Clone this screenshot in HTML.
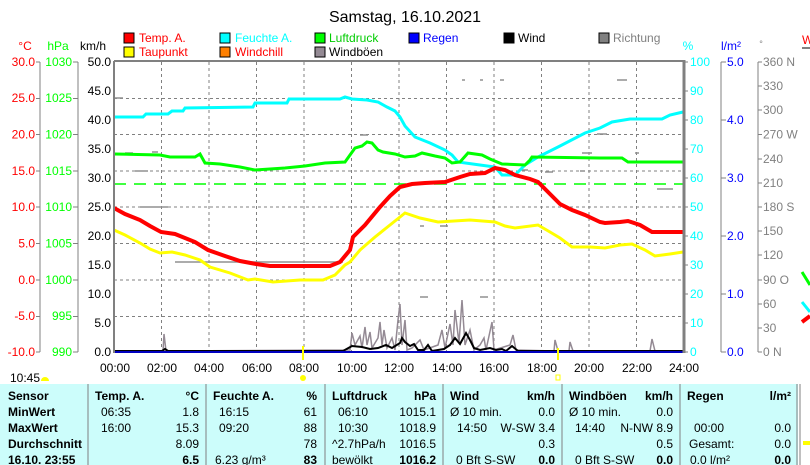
<!DOCTYPE html>
<html><head><meta charset="utf-8"><style>
html,body{margin:0;padding:0;background:#fff;}
svg{display:block;font-family:"Liberation Sans",sans-serif;}
</style></head><body>
<svg width="810" height="465" viewBox="0 0 810 465" xmlns="http://www.w3.org/2000/svg">
<text x="405" y="22" font-size="16" text-anchor="middle">Samstag, 16.10.2021</text>
<g font-size="12">
<rect x="124" y="33" width="10" height="10" fill="#f00" stroke="#000"/><text x="139" y="42" fill="#f00">Temp. A.</text>
<rect x="220" y="33" width="10" height="10" fill="#0ff" stroke="#000"/><text x="235" y="42" fill="#0ff">Feuchte A.</text>
<rect x="315" y="33" width="10" height="10" fill="#0f0" stroke="#000"/><text x="329" y="42" fill="#0c0">Luftdruck</text>
<rect x="409" y="33" width="10" height="10" fill="#00f" stroke="#000"/><text x="423" y="42" fill="#00f">Regen</text>
<rect x="504" y="33" width="10" height="10" fill="#000" stroke="#000"/><text x="518" y="42" fill="#000">Wind</text>
<rect x="599" y="33" width="10" height="10" fill="#808080" stroke="#000"/><text x="613" y="42" fill="#808080">Richtung</text>
<rect x="124" y="47" width="10" height="10" fill="#ff0" stroke="#000"/><text x="139" y="56" fill="#f00">Taupunkt</text>
<rect x="220" y="47" width="10" height="10" fill="#ff8000" stroke="#000"/><text x="235" y="56" fill="#f00">Windchill</text>
<rect x="315" y="47" width="10" height="10" fill="#948a94" stroke="#000"/><text x="329" y="56" fill="#000">Windböen</text>
</g>
<g font-size="12">
<text x="25" y="50" fill="#f00" text-anchor="middle">°C</text>
<text x="58" y="50" fill="#0f0" text-anchor="middle">hPa</text>
<text x="93" y="50" fill="#000" text-anchor="middle">km/h</text>
<text x="688" y="50" fill="#0ff" text-anchor="middle">%</text>
<text x="731" y="50" fill="#00f" text-anchor="middle">l/m²</text>
<text x="761" y="47" fill="#808080" text-anchor="middle" font-size="9">°</text>
<text x="802" y="44" fill="#f00">W</text>
<rect x="802" y="47" width="8" height="2" fill="#808080"/>
</g>
<g stroke="#808080" stroke-dasharray="3,3" stroke-width="1">
<line x1="161.5" y1="62" x2="161.5" y2="352"/><line x1="209" y1="62" x2="209" y2="352"/><line x1="256.5" y1="62" x2="256.5" y2="352"/><line x1="304" y1="62" x2="304" y2="352"/><line x1="351.5" y1="62" x2="351.5" y2="352"/><line x1="399" y1="62" x2="399" y2="352"/><line x1="446.5" y1="62" x2="446.5" y2="352"/><line x1="494" y1="62" x2="494" y2="352"/><line x1="541.5" y1="62" x2="541.5" y2="352"/><line x1="589" y1="62" x2="589" y2="352"/><line x1="636.5" y1="62" x2="636.5" y2="352"/>
<line x1="114" y1="98.5" x2="684" y2="98.5"/><line x1="114" y1="134.5" x2="684" y2="134.5"/><line x1="114" y1="171" x2="684" y2="171"/><line x1="114" y1="207" x2="684" y2="207"/><line x1="114" y1="243.5" x2="684" y2="243.5"/><line x1="114" y1="280" x2="684" y2="280"/><line x1="114" y1="316.5" x2="684" y2="316.5"/>
</g>
<line x1="114" y1="184" x2="684" y2="184" stroke="#0f0" stroke-width="1.5" stroke-dasharray="12,8"/>
<g stroke="#909090" stroke-width="1.5">
<line x1="115" y1="98" x2="123" y2="98"/><line x1="125" y1="153" x2="133" y2="153"/><line x1="152" y1="152" x2="158" y2="152"/>
<line x1="135" y1="171" x2="148" y2="171"/><line x1="140" y1="207" x2="168" y2="207"/><line x1="175" y1="262" x2="343" y2="262"/>
<line x1="350" y1="243" x2="354" y2="243"/><line x1="360" y1="135" x2="368" y2="135"/>
<line x1="462" y1="80" x2="465" y2="80"/><line x1="480" y1="80" x2="483" y2="80"/><line x1="500" y1="80" x2="504" y2="80"/>
<line x1="617" y1="80" x2="627" y2="80"/><line x1="597" y1="134" x2="607" y2="134"/><line x1="635" y1="153" x2="639" y2="153"/>
<line x1="582" y1="153" x2="592" y2="153"/><line x1="580" y1="171" x2="585" y2="171"/><line x1="657" y1="189" x2="673" y2="189"/>
<line x1="520" y1="170" x2="528" y2="170"/><line x1="420" y1="226" x2="424" y2="226"/><line x1="440" y1="226" x2="448" y2="226"/>
<line x1="420" y1="297" x2="428" y2="297"/><line x1="480" y1="297" x2="488" y2="297"/><line x1="545" y1="172" x2="553" y2="172"/>
</g>
<polyline fill="none" stroke="#0ff" stroke-width="3" points="114,117 143,117 146,114 168,114 172,111 183,111 185,108 253,107 255,103 287,103 289,99 340,99 345,97 352,99 367,100 378,102 387,107 395,111 400,117 405,126 415,137 430,143 445,150 452,155 458,162 480,165 495,167 502,175 515,175 525,165 538,157 560,146 585,133 600,128 612,122 630,119 662,119 670,115 683,112"/>
<polyline fill="none" stroke="#0f0" stroke-width="3" points="114,154 160,155 170,157 195,157 200,154 205,163 220,164 240,167 255,170 270,169 285,168 305,166 325,163 345,162 350,155 355,148 362,146 367,142 372,143 378,150 383,152 395,154 405,157 415,156 422,153 435,156 445,158 452,163 460,162 468,153 482,155 490,159 502,164 525,165 530,160 532,157 600,158 622,158 628,162 683,162"/>
<polyline fill="none" stroke="#f00" stroke-width="4" points="114,208 125,214 140,220 150,226 161,232 175,234 195,242 208,250 225,256 240,261 256,264 270,266 330,266 340,262 350,250 353,237 365,225 380,207 390,196 400,187 412,184 425,183 445,182 460,177 470,174 485,173 495,168 505,170 515,175 530,179 538,182 550,194 560,204 572,210 585,215 600,222 605,223 620,222 628,221 640,225 652,232 665,232 683,232"/>
<polyline fill="none" stroke="#ff0" stroke-width="3" points="114,230 125,235 140,243 150,249 160,253 172,252 185,255 200,260 210,267 230,273 248,280 255,279 273,282 300,280 323,280 335,275 345,265 350,262 360,250 375,237 390,225 400,217 405,213 420,218 438,222 470,220 495,222 505,226 515,228 538,225 550,232 560,238 572,247 590,247 605,248 620,245 632,244 645,250 655,256 670,254 683,252"/>
<polyline fill="none" stroke="#948a94" stroke-width="1.5" points="114,351 163,351 164,334 166,351 350,350 352,333 355,345 360,336 362,348 365,327 367,345 370,332 372,348 378,338 380,322 382,345 384,330 387,348 392,338 395,350 398,320 400,304 402,345 405,320 407,350 412,348 420,340 424,350 438,345 442,330 445,348 450,324 453,345 455,310 459,343 462,300 465,345 470,330 474,350 480,345 484,338 486,350 492,322 494,350 510,345 513,335 516,350 554,351 555,340 558,351 569,351 570,342 573,351 650,351 652,339 655,351 684,351"/>
<polyline fill="none" stroke="#000" stroke-width="2" points="114,351 162,351 165,349 168,351 343,351 352,346 362,347 370,349 378,348 386,345 392,348 400,343 402,338 405,342 410,346 414,344 418,350 424,350 428,345 432,351 438,350 444,349 450,345 455,338 460,344 466,333 470,340 474,348 480,350 490,348 496,350 502,349 506,351 512,346 518,351 684,351"/>
<line x1="114" y1="352" x2="684" y2="352" stroke="#0000c0" stroke-width="2"/>
<line x1="114" y1="61" x2="685" y2="61" stroke="#808080" stroke-width="2"/>
<line x1="114" y1="61" x2="114" y2="353" stroke="#808080" stroke-width="2"/>
<line x1="684" y1="60" x2="684" y2="353" stroke="#808080" stroke-width="3"/>
<g stroke="#808080"><line x1="40" y1="62" x2="40" y2="352"/><line x1="78" y1="62" x2="78" y2="352"/>
<line x1="721" y1="62" x2="721" y2="352"/><line x1="758" y1="62" x2="758" y2="352"/></g>
<g font-size="12" text-anchor="end">
<g fill="#f00"><text x="35" y="66">30.0</text><text x="35" y="102">25.0</text><text x="35" y="138.5">20.0</text><text x="35" y="175">15.0</text><text x="35" y="211">10.0</text><text x="35" y="247.5">5.0</text><text x="35" y="284">0.0</text><text x="35" y="320">-5.0</text><text x="35" y="356">-10.0</text></g>
<g fill="#0f0"><text x="72" y="66">1030</text><text x="72" y="102">1025</text><text x="72" y="138.5">1020</text><text x="72" y="175">1015</text><text x="72" y="211">1010</text><text x="72" y="247.5">1005</text><text x="72" y="284">1000</text><text x="72" y="320">995</text><text x="72" y="356">990</text></g>
<g fill="#000"><text x="111" y="66">50.0</text><text x="111" y="95">45.0</text><text x="111" y="124">40.0</text><text x="111" y="153">35.0</text><text x="111" y="182">30.0</text><text x="111" y="211">25.0</text><text x="111" y="240">20.0</text><text x="111" y="269">15.0</text><text x="111" y="298">10.0</text><text x="111" y="327">5.0</text><text x="111" y="356">0.0</text></g>
</g>
<g stroke="#808080"><path d="M36 62h4M36 98.5h4M36 134.5h4M36 171h4M36 207h4M36 243.5h4M36 280h4M36 316.5h4M36 352h4M73 62h5M73 98.5h5M73 134.5h5M73 171h5M73 207h5M73 243.5h5M73 280h5M73 316.5h5M73 352h5"/>
<path d="M684 62h4M684 91h4M684 120h4M684 149h4M684 178h4M684 207h4M684 236h4M684 265h4M684 294h4M684 323h4M684 352h4M721 62h5M721 120h5M721 178h5M721 236h5M721 294h5M721 352h5"/>
<path d="M758 62h4M758 86h4M758 110h4M758 134.5h4M758 159h4M758 183h4M758 207h4M758 231h4M758 255h4M758 280h4M758 304h4M758 328h4M758 352h4"/></g>
<g font-size="12">
<g fill="#0ff"><text x="690" y="66">100</text><text x="690" y="95">90</text><text x="690" y="124">80</text><text x="690" y="153">70</text><text x="690" y="182">60</text><text x="690" y="211">50</text><text x="690" y="240">40</text><text x="690" y="269">30</text><text x="690" y="298">20</text><text x="690" y="327">10</text><text x="690" y="356">0</text></g>
<g fill="#00f"><text x="727" y="66">5.0</text><text x="727" y="124">4.0</text><text x="727" y="182">3.0</text><text x="727" y="240">2.0</text><text x="727" y="298">1.0</text><text x="727" y="356">0.0</text></g>
<g fill="#808080"><text x="763" y="66">360 N</text><text x="763" y="90">330</text><text x="763" y="114">300</text><text x="763" y="138.5">270 W</text><text x="763" y="163">240</text><text x="763" y="187">210</text><text x="763" y="211">180 S</text><text x="763" y="235">150</text><text x="763" y="259">120</text><text x="763" y="284">90  O</text><text x="763" y="308">60</text><text x="763" y="332">30</text><text x="763" y="356">0   N</text></g>
</g>
<path d="M802 272 L810 285" stroke="#0f0" stroke-width="3"/><path d="M802 302 L810 312" stroke="#0ff" stroke-width="3"/><path d="M802 322 L810 316" stroke="#f00" stroke-width="4"/>
<g font-size="12" text-anchor="middle">
<text x="115" y="372">00:00</text><text x="162" y="372">02:00</text><text x="209" y="372">04:00</text><text x="257" y="372">06:00</text><text x="304" y="372">08:00</text><text x="352" y="372">10:00</text><text x="399" y="372">12:00</text><text x="447" y="372">14:00</text><text x="494" y="372">16:00</text><text x="542" y="372">18:00</text><text x="589" y="372">20:00</text><text x="637" y="372">22:00</text><text x="684" y="372">24:00</text>
</g>
<text x="10" y="382" font-size="12">10:45</text>
<path d="M41 381 a4 4 0 0 1 8 0z" fill="#ff0"/>
<line x1="303" y1="346" x2="303" y2="360" stroke="#ff0" stroke-width="2"/>
<circle cx="303" cy="378" r="3" fill="#ff0"/>
<line x1="558" y1="348" x2="558" y2="360" stroke="#ff0" stroke-width="2"/>
<rect x="556" y="375" width="4" height="5" fill="none" stroke="#ff0"/>
<rect x="0" y="384" width="798" height="81" fill="#ccfdfb"/>
<g stroke="#808080"><line x1="88" y1="384" x2="88" y2="465"/><line x1="206" y1="384" x2="206" y2="465"/><line x1="325" y1="384" x2="325" y2="465"/><line x1="443" y1="384" x2="443" y2="465"/><line x1="562" y1="384" x2="562" y2="465"/><line x1="680" y1="384" x2="680" y2="465"/><line x1="797" y1="384" x2="797" y2="465"/><line x1="800" y1="384" x2="800" y2="465"/></g>
<g font-size="12" font-weight="bold">
<text x="8" y="400">Sensor</text><text x="8" y="416">MinWert</text><text x="8" y="432">MaxWert</text><text x="8" y="448">Durchschnitt</text><text x="8" y="464">16.10. 23:55</text>
<text x="95" y="400">Temp. A.</text><text x="199" y="400" text-anchor="end">°C</text>
<text x="213" y="400">Feuchte A.</text><text x="317" y="400" text-anchor="end">%</text>
<text x="332" y="400">Luftdruck</text><text x="436" y="400" text-anchor="end">hPa</text>
<text x="450" y="400">Wind</text><text x="555" y="400" text-anchor="end">km/h</text>
<text x="569" y="400">Windböen</text><text x="673" y="400" text-anchor="end">km/h</text>
<text x="687" y="400">Regen</text><text x="791" y="400" text-anchor="end">l/m²</text>
<text x="199" y="464" text-anchor="end">6.5</text><text x="317" y="464" text-anchor="end">83</text><text x="436" y="464" text-anchor="end">1016.2</text><text x="555" y="464" text-anchor="end">0.0</text><text x="673" y="464" text-anchor="end">0.0</text><text x="791" y="464" text-anchor="end">0.0</text>
</g>
<g font-size="12">
<text x="101" y="416">06:35</text><text x="199" y="416" text-anchor="end">1.8</text>
<text x="101" y="432">16:00</text><text x="199" y="432" text-anchor="end">15.3</text>
<text x="199" y="448" text-anchor="end">8.09</text>
<text x="219" y="416">16:15</text><text x="317" y="416" text-anchor="end">61</text>
<text x="219" y="432">09:20</text><text x="317" y="432" text-anchor="end">88</text>
<text x="317" y="448" text-anchor="end">78</text><text x="215" y="464">6.23 g/m³</text>
<text x="338" y="416">06:10</text><text x="436" y="416" text-anchor="end">1015.1</text>
<text x="338" y="432">10:30</text><text x="436" y="432" text-anchor="end">1018.9</text>
<text x="332" y="448">^2.7hPa/h</text><text x="436" y="448" text-anchor="end">1016.5</text><text x="332" y="464">bewölkt</text>
<text x="450" y="416">Ø 10 min.</text><text x="555" y="416" text-anchor="end">0.0</text>
<text x="457" y="432">14:50</text><text x="555" y="432" text-anchor="end">W-SW 3.4</text>
<text x="555" y="448" text-anchor="end">0.3</text><text x="456" y="464">0 Bft S-SW</text>
<text x="569" y="416">Ø 10 min.</text><text x="673" y="416" text-anchor="end">0.0</text>
<text x="575" y="432">14:40</text><text x="673" y="432" text-anchor="end">N-NW 8.9</text>
<text x="673" y="448" text-anchor="end">0.5</text><text x="575" y="464">0 Bft S-SW</text>
<text x="694" y="432">00:00</text><text x="791" y="432" text-anchor="end">0.0</text>
<text x="689" y="448">Gesamt:</text><text x="791" y="448" text-anchor="end">0.0</text><text x="690" y="464">0.0 l/m²</text>
</g>
<rect x="803" y="441" width="7" height="4" fill="#ff0"/>
</svg>
</body></html>
